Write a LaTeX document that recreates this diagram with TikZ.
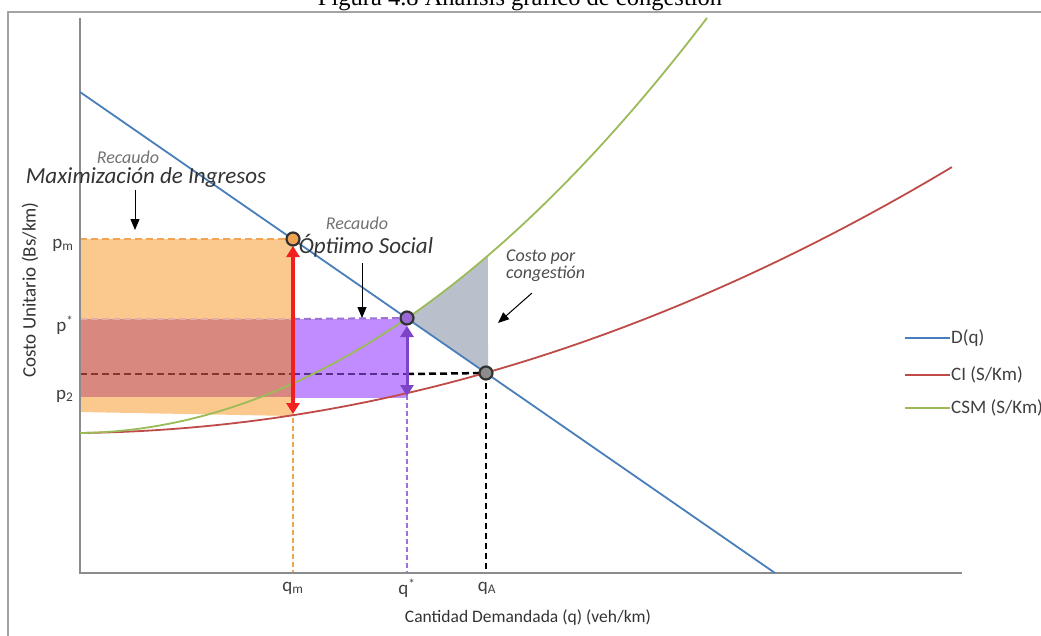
\documentclass[tikz,border=0pt]{standalone}
\usepackage{fontspec}
\setmainfont{Carlito}
\newfontfamily\titlefont{Liberation Serif}
\usetikzlibrary{arrows.meta}
\definecolor{cblue}{HTML}{4A7EBB}
\definecolor{cred}{HTML}{BE4B48}
\definecolor{cgreen}{HTML}{9BBB59}
\definecolor{forange}{HTML}{FBC98E}
\definecolor{fred}{HTML}{D98880}
\definecolor{fpurple}{HTML}{C08CFF}
\definecolor{fgray}{HTML}{B9C0CC}
\definecolor{axisgray}{HTML}{8C8C8C}
\definecolor{dorange}{HTML}{F2A455}
\definecolor{dpurple}{HTML}{9A72D0}
\definecolor{arrred}{HTML}{F02020}
\definecolor{arrpurple}{HTML}{7E44C8}
\tikzset{
  curve/.style={line width=1.8pt},
  ddash/.style={line width=2pt, dash pattern=on 7pt off 4pt},
  bigarrow/.style={line width=3.5pt, {Triangle[width=13pt,length=11pt]}-{Triangle[width=13pt,length=11pt]}},
  notearrow/.style={line width=1pt, -{Triangle[width=9pt,length=11pt]}},
  dot/.style={circle, draw=black!80, line width=2.2pt, minimum size=13pt, inner sep=0pt},
  tick/.style={font=\fontsize{19}{21}\selectfont, text=black!75},
  note/.style={font=\itshape\fontsize{23}{25}\selectfont, text=black!80},
  smallnote/.style={font=\itshape\fontsize{18}{19}\selectfont, text=black!55},
  legtext/.style={font=\fontsize{19}{21}\selectfont, text=black!75, anchor=west, inner sep=1pt}
}
\begin{document}
\begin{tikzpicture}[x=1pt,y=-1pt]
\useasboundingbox (0,0) rectangle (1041,635);
% frame and title
\draw[axisgray!80, line width=1.2pt] (8,12) rectangle (1070,660);
\node[font=\titlefont\fontsize{24.5}{28}\selectfont, anchor=base] (title) at (520,5) {Figura 4.8 Análisis gráfico de congestión};

% key points
\coordinate (O) at (80,573);
\coordinate (Ytop) at (80,18);
\coordinate (Xend) at (962,573);
\coordinate (Pm) at (293,239);
\coordinate (Ps) at (407,318);
\coordinate (PA) at (486,373);

% fills
\fill[forange] (80,239) -- (293,239) -- (293,416) -- (80,412) -- cycle;
\fill[fred] (80,319) rectangle (293,397);
\fill[fpurple] (293,319) rectangle (407,398);
\fill[fgray] (Ps) -- plot[domain=3.27:4.08, samples=20, variable=\t] ({80+100*\t},{433-(10.37*\t*\t+1.18*\t)}) -- (488,374) -- (PA) -- cycle;

% dashed guide lines
\draw[ddash, dorange] (80,239) -- (Pm);
\draw[ddash, dorange, dash pattern=on 5pt off 3pt] (293,418) -- (293,573);
\draw[ddash, fred!70!white] (80,319) -- (293,319);
\draw[ddash, dpurple] (293,319) -- (Ps);
\draw[ddash, cred!70!black] (80,374) -- (293,374);
\draw[ddash, arrpurple!70!black] (293,374) -- (407,374);
\draw[ddash, black, line width=2.5pt] (407,374) -- (PA);
\draw[ddash, dpurple, dash pattern=on 5pt off 3pt] (407,395) -- (407,573);
\draw[ddash, black, line width=2.5pt, dash pattern=on 6pt off 4pt] (PA) -- (486,573);

% axes
\draw[axisgray, line width=1.5pt] (Ytop) -- (O) -- (Xend);

% curves
\draw[curve, cred] plot[domain=0:8.72, samples=80, variable=\t] ({80+100*\t},{433-(3.36*\t*\t+1.2*\t)});
\draw[curve, cgreen] plot[domain=0:6.27, samples=80, variable=\t] ({80+100*\t},{433-(10.37*\t*\t+1.18*\t)});
\draw[curve, cblue] (80,92) -- (775,573);

% double arrows
\coordinate (rtop) at (293,246);
\coordinate (rbot) at (293,414);
\draw[bigarrow, arrred] (rtop) -- (rbot);
\coordinate (ptop) at (407,326);
\coordinate (pbot) at (407,396);
\draw[bigarrow, arrpurple, line width=3pt] (ptop) -- (pbot);

% points
\node[dot, fill=dorange] (pm) at (Pm) {};
\node[dot, fill=arrpurple!80] (ps) at (Ps) {};
\node[dot, fill=black!45] (pa) at (PA) {};

% tick labels
\node[tick, anchor=east] (lpm) at (77,245) {p\textsubscript{m}};
\node[tick, anchor=east] (lps) at (77,325) {p\textsuperscript{*}};
\node[tick, anchor=east] (lp2) at (77,396) {p\textsubscript{2}};
\node[tick] (lqm) at (293,588) {q\textsubscript{m}};
\node[tick] (lqs) at (407,588) {q\textsuperscript{*}};
\node[tick] (lqa) at (487,588) {q\textsubscript{A}};

% axis titles
\node[font=\fontsize{17.5}{20}\selectfont, text=black!80] (xlab) at (528,617) {Cantidad Demandada (q) (veh/km)};
\node[font=\fontsize{19}{21}\selectfont, text=black!80, rotate=90] (ylab) at (30,290) {Costo Unitario (Bs/km)};

% annotations
\node[smallnote] (rec1) at (128,157) {Recaudo};
\node[note] (maxi) at (146,177) {Maximización de Ingresos};
\coordinate (a1s) at (135,190);
\coordinate (a1e) at (135,230);
\draw[notearrow] (a1s) -- (a1e);

\node[smallnote] (rec2) at (357,223) {Recaudo};
\node[note] (opt) at (366,246) {Óptiimo Social};
\coordinate (a2s) at (362,263);
\coordinate (a2e) at (362,318);
\draw[notearrow] (a2s) -- (a2e);

\node[smallnote, text=black!70, align=left, anchor=north west, inner sep=0pt, font=\itshape\fontsize{18}{15}\selectfont] (cong) at (506,250) {Costo por\\congestión};
\coordinate (a3s) at (532,293);
\coordinate (a3e) at (498,323);
\draw[notearrow] (a3s) -- (a3e);

% legend
\coordinate (l1a) at (905,338); \coordinate (l1b) at (950,338);
\coordinate (l2a) at (905,375); \coordinate (l2b) at (950,375);
\coordinate (l3a) at (905,408); \coordinate (l3b) at (950,408);
\draw[curve, cblue] (l1a) -- (l1b);
\draw[curve, cred] (l2a) -- (l2b);
\draw[curve, cgreen] (l3a) -- (l3b);
\node[legtext] (t1) at (l1b) {D(q)};
\node[legtext] (t2) at (l2b) {CI (S/Km)};
\node[legtext] (t3) at (l3b) {CSM (S/Km)};
\end{tikzpicture}
\end{document}
